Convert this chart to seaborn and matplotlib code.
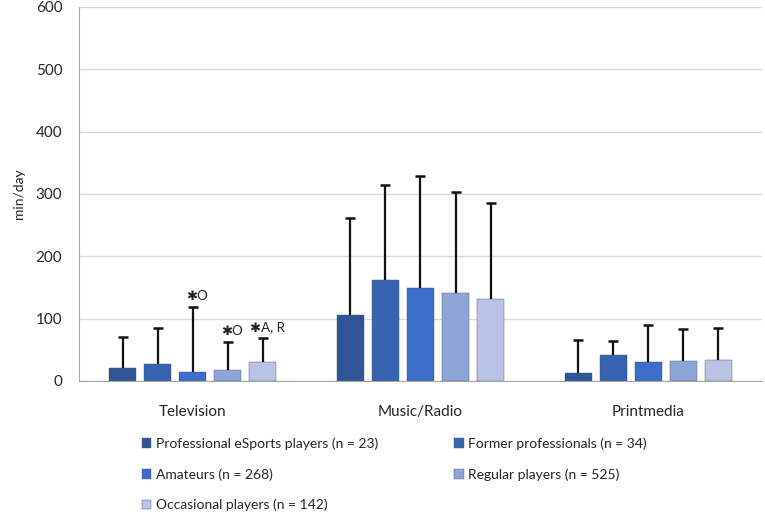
import pandas as pd
import seaborn as sns
import matplotlib.pyplot as plt

# media use per day (mean and SD, min/day)
categories = ["Television", "Music/Radio", "Printmedia"]
groups = ["Professional eSports players (n = 23)", "Former professionals (n = 34)",
          "Amateurs (n = 268)", "Regular players (n = 525)", "Occasional players (n = 142)"]
means = {
    "Professional eSports players (n = 23)": [21, 106, 13],
    "Former professionals (n = 34)": [27, 162, 42.5],
    "Amateurs (n = 268)": [15, 149.5, 30],
    "Regular players (n = 525)": [17.5, 141, 32],
    "Occasional players (n = 142)": [30, 131, 33.5],
}
sds = {
    "Professional eSports players (n = 23)": [49, 155, 53],
    "Former professionals (n = 34)": [58, 153, 21.5],
    "Amateurs (n = 268)": [104, 179.5, 59.5],
    "Regular players (n = 525)": [45, 161.5, 51],
    "Occasional players (n = 142)": [39, 154.7, 51.5],
}
# significance marks: (group index, category index, text)
marks = [(2, 0, "\u2731O"), (3, 0, "\u2731O"), (4, 0, "\u2731A, R")]
colors = ["#2F5597", "#3763B0", "#3B6DCB", "#8EA5D8", "#B8C3E6"]

rows = []
for g in groups:
    for c, m in zip(categories, means[g]):
        rows.append({"category": c, "group": g, "mean": m})
df = pd.DataFrame(rows)

sns.set_style("white")
plt.rcParams['font.family'] = ['Lato', 'DejaVu Sans']

fig = plt.figure(figsize=(7.65, 5.25), dpi=100)
ax = fig.add_axes([0.1033, 0.2743, 0.8927, 0.7124])

sns.barplot(data=df, x="category", y="mean", hue="group", hue_order=groups,
            palette=colors, width=0.77, gap=0.23, errorbar=None, ax=ax,
            edgecolor="#555555", linewidth=0.3, saturation=1)

# upper-only SD error bars, one container per group
for i, g in enumerate(groups):
    bars = ax.containers[i]
    xs = [b.get_x() + b.get_width() / 2 for b in bars]
    ys = [b.get_height() for b in bars]
    tops = [y + s for y, s in zip(ys, sds[g])]
    ax.vlines(xs, ys, tops, color="#111111", linewidth=1.6, zorder=3)
    ax.scatter(xs, tops, marker="_", s=45, linewidths=1.8, color="#111111", zorder=3)

for gi, ci, txt in marks:
    b = ax.containers[gi][ci]
    top = b.get_height() + sds[groups[gi]][ci]
    ax.text(b.get_x() + b.get_width() / 2 + 0.02, top + 8, txt, ha="center", va="bottom",
            fontsize=9.5, color="#222222")

ax.set_ylim(0, 600)
ax.set_xlim(-0.5, 2.5)
ax.set_yticks(range(0, 601, 100))
ax.yaxis.grid(True, color="#D9D9D9", linewidth=1)
ax.set_axisbelow(True)
for s in ["top", "right"]:
    ax.spines[s].set_visible(False)
ax.spines["left"].set_color("#A6A6A6")
ax.spines["bottom"].set_color("#A6A6A6")
ax.tick_params(axis="x", length=0, pad=17, labelsize=11)
ax.tick_params(axis="y", length=0, pad=12, labelsize=11)
ax.set_xlabel("")
ax.set_ylabel("min/day", fontsize=10, labelpad=8)

ax.get_legend().remove()
order = [0, 2, 4, 1, 3]
fig.legend([ax.containers[i] for i in order], [groups[i] for i in order],
           loc="upper left", bbox_to_anchor=(0.178, 0.177), ncol=2, frameon=False,
           fontsize=10, handlelength=0.7, handleheight=0.7, handletextpad=0.3,
           labelspacing=1.3, columnspacing=5.5, borderaxespad=0)

fig.savefig("out.png", dpi=100)
